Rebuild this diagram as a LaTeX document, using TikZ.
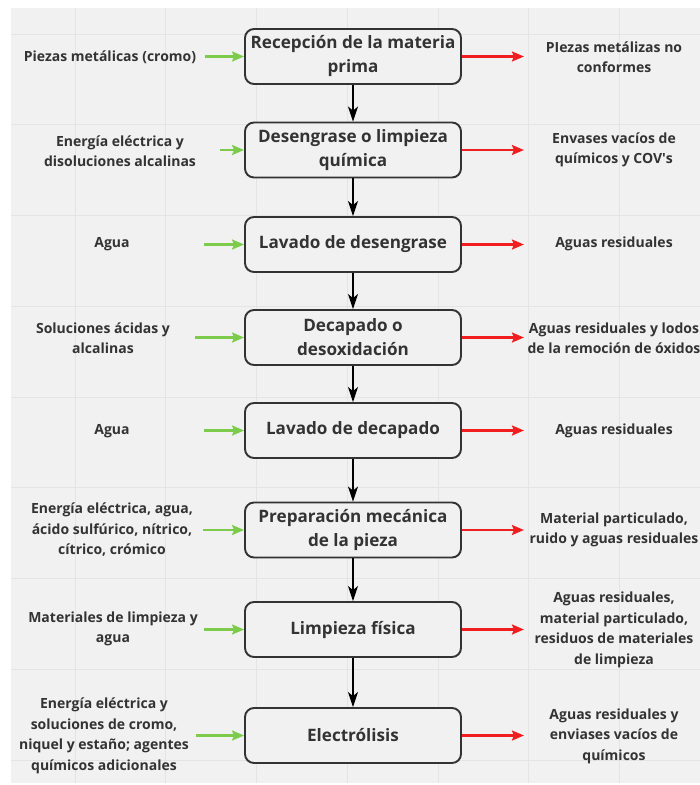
\documentclass[tikz,border=0pt]{standalone}
\usepackage{fontspec}
\setmainfont{Open Sans}
\usetikzlibrary{arrows.meta}
\definecolor{bg}{HTML}{F1F1F1}
\definecolor{gridc}{HTML}{E4E4E4}
\definecolor{txt}{HTML}{333333}
\definecolor{ingreen}{HTML}{7DCB4A}
\definecolor{outred}{HTML}{F01E1E}
\begin{document}
\begin{tikzpicture}[x=1pt,y=-1pt,
  stepbox/.style={draw=txt, line width=1.9pt, rounded corners=9pt, fill=bg,
    minimum width=216pt, minimum height=55pt, align=center,
    font=\fontsize{17.1}{24}\selectfont\bfseries, text=txt, inner sep=0pt},
  sidelbl/.style={align=center, font=\fontsize{14}{20.5}\selectfont\bfseries,
    text=txt, inner sep=0pt},
  flow/.style={-{Stealth[length=15pt,width=10pt,inset=4pt]}, line width=1.6pt, draw=black},
  inarr/.style={-{Stealth[length=12pt,width=10pt,inset=2pt]}, line width=2.2pt, draw=ingreen},
  outarr/.style={-{Stealth[length=12pt,width=10pt,inset=2pt]}, line width=2.2pt, draw=outred}]
\useasboundingbox (0,0) rectangle (700,785);
\fill[white] (0,0) rectangle (700,785);
\fill[bg] (11,8) rectangle (700,783);
\foreach \i in {0,...,6} \draw[gridc, line width=1pt] ({75+90.75*\i},8) -- ({75+90.75*\i},783);
\foreach \i in {0,...,8} \draw[gridc, line width=1pt] (11,{34+90.75*\i}) -- (700,{34+90.75*\i});

% process boxes
\node[stepbox] (b1) at (353,56.5) {Recepción de la materia\\prima};
\node[stepbox] (b2) at (353,150) {Desengrase o limpieza\\química};
\node[stepbox] (b3) at (353,244.5) {Lavado de desengrase};
\node[stepbox] (b4) at (353,337.5) {Decapado o\\desoxidación};
\node[stepbox] (b5) at (353,430.5) {Lavado de decapado};
\node[stepbox] (b6) at (353,530) {Preparación mecánica\\de la pieza};
\node[stepbox] (b7) at (353,629.5) {Limpieza física};
\node[stepbox] (b8) at (353,735.5) {Electrólisis};

\draw[flow] (b1) -- (b2);
\draw[flow] (b2) -- (b3);
\draw[flow] (b3) -- (b4);
\draw[flow] (b4) -- (b5);
\draw[flow] (b5) -- (b6);
\draw[flow] (b6) -- (b7);
\draw[flow] (b7) -- (b8);

% inputs
\node[sidelbl] (l1) at (110,57) {Piezas metálicas (cromo)};
\node[sidelbl] (l2) at (120,151) {Energía eléctrica y\\disoluciones alcalinas};
\node[sidelbl] (l3) at (112,244) {Agua};
\node[sidelbl] (l4) at (103,338) {Soluciones ácidas y\\alcalinas};
\node[sidelbl] (l5) at (112,431) {Agua};
\node[sidelbl] (l6) at (112,530) {Energía eléctrica, agua,\\ácido sulfúrico, nítrico,\\cítrico, crómico};
\node[sidelbl] (l7) at (113,629) {Materiales de limpieza y\\agua};
\node[sidelbl] (l8) at (104,736) {Energía eléctrica y\\soluciones de cromo,\\niquel y estaño; agentes\\químicos adicionales};

\coordinate (i1) at (205,56.5);
\coordinate (i2) at (220,150);
\coordinate (i3) at (204,244.5);
\coordinate (i4) at (195,337.5);
\coordinate (i5) at (204,430.5);
\coordinate (i6) at (203,530);
\coordinate (i7) at (204,629.5);
\coordinate (i8) at (196,735.5);
\foreach \k in {1,...,8} \draw[inarr] (i\k) -- (b\k.west);

% outputs
\node[sidelbl] (r1) at (614,57) {PIezas metálizas no\\conformes};
\node[sidelbl] (r2) at (614,150) {Envases vacíos de\\químicos y COV\textquotesingle s};
\node[sidelbl] (r3) at (614,244) {Aguas residuales};
\node[sidelbl] (r4) at (614,338) {Aguas residuales y lodos\\de la remoción de óxidos};
\node[sidelbl] (r5) at (614,431) {Aguas residuales};
\node[sidelbl] (r6) at (614,530) {Material particulado,\\ruido y aguas residuales};
\node[sidelbl] (r7) at (614,630) {Aguas residuales,\\material particulado,\\residuos de materiales\\de limpieza};
\node[sidelbl] (r8) at (614,736) {Aguas residuales y\\enviases vacíos de\\químicos};

\foreach \k in {1,...,8} \coordinate (o\k) at ([xshift=62pt]b\k.east);
\foreach \k in {1,...,8} \draw[outarr] (b\k.east) -- (o\k);
\end{tikzpicture}
\end{document}
